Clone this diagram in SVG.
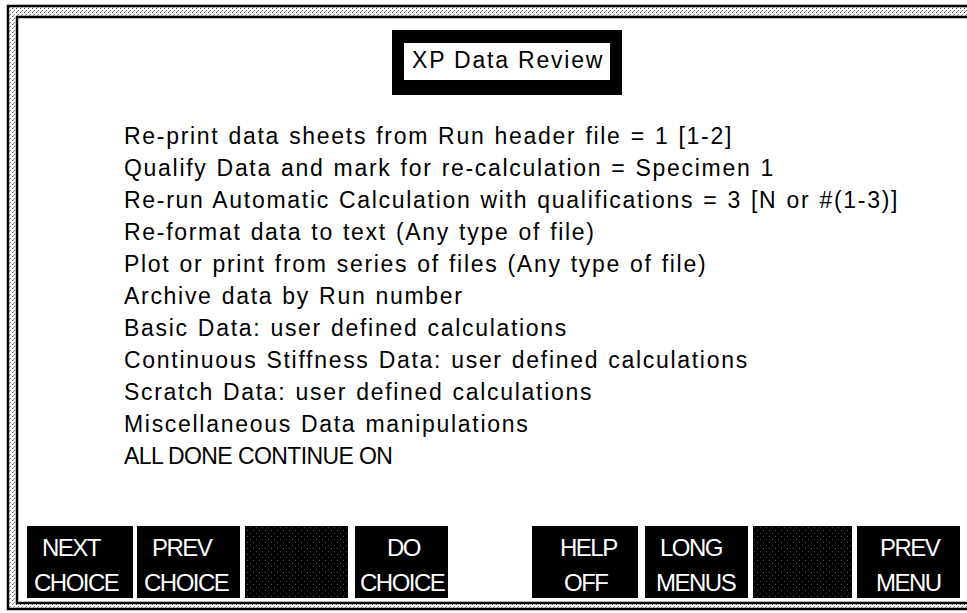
<svg xmlns="http://www.w3.org/2000/svg" width="967" height="613" viewBox="0 0 967 613">
<defs>
<pattern id="stip" width="4" height="4" patternUnits="userSpaceOnUse">
<rect width="4" height="4" fill="#fff"/>
<rect x="0" y="0" width="1" height="1" fill="#555"/>
<rect x="2" y="2" width="1" height="1" fill="#777"/>
<rect x="1" y="3" width="1" height="1" fill="#999"/>
</pattern>
<pattern id="dark" width="6" height="6" patternUnits="userSpaceOnUse">
<rect width="6" height="6" fill="#000"/>
<rect x="1" y="2" width="1" height="1" fill="#555"/>
<rect x="4" y="5" width="1" height="1" fill="#444"/>
</pattern>
</defs>
<style>
.item{font-family:"Liberation Sans",Arial,sans-serif;font-size:23px;fill:#000;letter-spacing:1.7px;word-spacing:1px}
.caps{letter-spacing:-0.6px;word-spacing:0}
.btn{fill:#000}
.bt{font-family:"Liberation Sans",Arial,sans-serif;font-size:24px;fill:#fff;letter-spacing:-1.5px}
.title{font-family:"Liberation Sans",Arial,sans-serif;font-size:23px;fill:#000;letter-spacing:1.8px}
</style>
<rect width="967" height="613" fill="#fff"/>
<g id="frame">
<rect x="7" y="5" width="970" height="605" fill="url(#stip)"/>
<path d="M967 6 H8 V609 H967" fill="none" stroke="#000" stroke-width="2.5"/>
<rect x="16" y="16" width="960" height="586" fill="#fff"/>
<path d="M967 17 H17 V603 H967" fill="none" stroke="#000" stroke-width="2.5"/>
</g>
<g id="title">
<rect x="392" y="30" width="230" height="65" fill="#000"/>
<rect x="404" y="43" width="206" height="37" fill="#fff"/>
<text class="title" x="412" y="68">XP Data Review</text>
</g>
<g id="menu">
<text class="item" x="124" y="144">Re-print data sheets from Run header file = 1 [1-2]</text>
<text class="item" x="124" y="176">Qualify Data and mark for re-calculation = Specimen 1</text>
<text class="item" x="124" y="208">Re-run Automatic Calculation with qualifications = 3 [N or #(1-3)]</text>
<text class="item" x="124" y="240">Re-format data to text (Any type of file)</text>
<text class="item" x="124" y="272">Plot or print from series of files (Any type of file)</text>
<text class="item" x="124" y="304">Archive data by Run number</text>
<text class="item" x="124" y="336">Basic Data: user defined calculations</text>
<text class="item" x="124" y="368">Continuous Stiffness Data: user defined calculations</text>
<text class="item" x="124" y="400">Scratch Data: user defined calculations</text>
<text class="item" x="124" y="432">Miscellaneous Data manipulations</text>
<text class="item caps" x="124" y="464">ALL DONE CONTINUE ON</text>
</g>
<g id="btn-next">
<rect class="btn" x="27" y="526" width="106" height="72"/>
<text class="bt" x="42" y="556">NEXT</text>
<text class="bt" x="34" y="591">CHOICE</text>
</g>
<g id="btn-prev">
<rect class="btn" x="137" y="526" width="103" height="72"/>
<text class="bt" x="152" y="556">PREV</text>
<text class="bt" x="144" y="591">CHOICE</text>
</g>
<g id="btn-blank1">
<rect x="245" y="526" width="103" height="72" fill="url(#dark)"/>
</g>
<g id="btn-do">
<rect class="btn" x="355" y="526" width="93" height="72"/>
<text class="bt" x="387" y="556">DO</text>
<text class="bt" x="360" y="591">CHOICE</text>
</g>
<g id="btn-help">
<rect class="btn" x="532" y="526" width="106" height="72"/>
<text class="bt" x="560" y="556">HELP</text>
<text class="bt" x="564" y="591">OFF</text>
</g>
<g id="btn-long">
<rect class="btn" x="645" y="526" width="103" height="72"/>
<text class="bt" x="660" y="556">LONG</text>
<text class="bt" x="656" y="591">MENUS</text>
</g>
<g id="btn-blank2">
<rect x="753" y="526" width="99" height="72" fill="url(#dark)"/>
</g>
<g id="btn-prevmenu">
<rect class="btn" x="857" y="526" width="103" height="72"/>
<text class="bt" x="880" y="556">PREV</text>
<text class="bt" x="876" y="591">MENU</text>
</g>
</svg>
